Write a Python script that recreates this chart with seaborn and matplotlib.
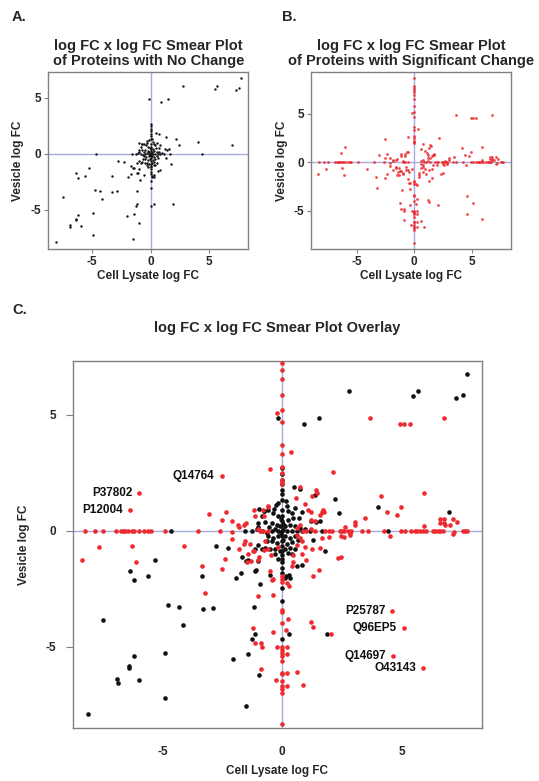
import numpy as np
import pandas as pd
import matplotlib
matplotlib.use("Agg")
import matplotlib.pyplot as plt
import seaborn as sns

# ---------------- data ----------------
# proteins with no change (black)
black_outer = [
    (7.73, 6.75), (2.77, 6.05), (5.47, 5.83), (5.68, 6.05), (7.28, 5.71), (7.54, 5.84),
    (-0.16, 4.86), (0.90, 4.60), (1.52, 4.86), (2.21, 1.36), (4.02, 1.02), (2.39, 0.78),
    (6.95, 0.82), (4.40, 0.0), (1.35, 1.55), (0.49, 1.88), (0.75, 1.81), (-4.65, 0.0),
    (-2.79, -0.65), (-2.25, -0.76), (-5.30, -1.27), (-6.38, -1.73), (-6.21, -2.11),
    (-5.62, -1.95), (-3.35, -1.95), (-1.93, -2.03), (-1.72, -1.81), (-1.67, -1.12),
    (-1.52, -1.29), (-1.16, -1.74), (-0.93, -2.29), (-0.53, -1.91), (-4.76, -3.21),
    (-4.30, -3.28), (-3.30, -3.39), (-2.90, -3.35), (-4.17, -4.05), (-7.48, -3.85),
    (-1.19, -3.30), (-1.15, -4.46), (-1.26, -4.66), (-1.44, -5.33), (-2.05, -5.52),
    (-6.19, -5.42), (-6.39, -5.83), (-6.39, -5.90), (-4.92, -5.29), (-6.92, -6.38),
    (-6.86, -6.57), (-6.00, -6.45), (-4.92, -7.23), (-8.11, -7.90), (-0.96, -6.21),
    (-1.51, -7.57), (1.88, -4.44), (0.27, -4.43), (0.0, -4.66), (0.0, -3.02), (0.0, -2.46),
    (0.14, -1.95), (0.27, -1.91), (0.60, -1.50), (0.81, -1.46), (1.29, -0.40), (1.58, 0.42),
]
black_core = [
    (0.0, 2.70), (0.0, 2.45), (0.0, 2.20), (0.0, 2.00), (0.0, 1.78), (0.0, 1.57), (0.0, 1.35),
    (-0.17, 1.21), (-0.28, 1.11), (-0.58, 0.92), (-0.75, 0.85), (-0.86, 0.66), (-0.38, 0.75),
    (0.18, 1.06), (0.25, 0.85), (0.39, 0.75), (0.53, 0.99), (0.83, 0.80), (1.19, 0.42),
    (1.39, 0.37), (-1.00, 0.34), (-0.72, 0.37), (-0.44, 0.34), (-0.24, 0.27), (-0.10, 0.20),
    (0.11, 0.20), (0.32, 0.27), (0.53, 0.20), (0.74, 0.13), (0.94, 0.06), (-1.56, 0.0),
    (-1.28, 0.0), (-1.07, 0.06), (-0.86, 0.0), (-0.65, -0.09), (-0.44, 0.0), (-0.31, 0.06),
    (-0.17, 0.0), (0.0, 0.0), (0.18, 0.0), (0.39, 0.0), (0.60, 0.0), (0.81, 0.0), (1.15, 0.0),
    (1.64, 0.0), (-0.58, -0.23), (-0.38, -0.30), (-0.17, -0.23), (0.11, -0.23), (0.32, -0.30),
    (0.53, -0.23), (-0.44, -0.45), (-0.24, -0.52), (-0.03, -0.45), (0.18, -0.55), (0.39, -0.49),
    (-0.72, -0.73), (-0.51, -0.80), (-0.31, -0.78), (-0.10, -0.88), (0.11, -0.80), (0.32, -0.73),
    (0.53, -0.80), (-0.86, -0.80), (-1.00, -0.59), (-1.14, -0.78), (-0.31, -1.02), (0.0, -1.06),
    (0.39, -1.02), (-1.42, -1.26), (-1.03, -1.31), (-1.11, -1.71), (0.11, -2.03), (0.32, -2.03),
    (1.78, -0.88), (0.0, -1.20), (0.0, -1.35), (0.0, 0.63), (0.0, 0.42), (0.0, 0.92),
    (0.0, -0.23), (0.0, -0.66), (0.0, -0.88), (-0.96, 0.96), (-0.78, 0.85), (-1.00, 0.17),
    (0.02, 0.10), (-0.05, -0.10), (0.05, 0.30), (-0.05, 0.50), (0.05, -0.40), (0.22, 0.45),
    (-0.20, 0.62), (0.45, 0.55), (-0.55, 0.15), (0.65, -0.40), (-0.65, -0.45), (0.25, -0.95),
    (-0.20, -1.20), (0.70, 0.55), (-0.35, 0.95), (0.15, 1.30), (0.0, -1.60), (0.0, -1.80),
]

# proteins with significant change (red)
red_on_x0_y = [8.72, 7.86, 7.69, 7.45, 7.22, 6.93, 6.55, 5.85, 5.20, 4.70, 3.70, 3.30, 2.75,
               2.50, 2.20, 2.10, 2.00, -1.93, -2.06, -2.20, -3.42, -3.49, -3.99, -5.00, -5.15,
               -5.26, -5.40, -5.63, -6.14, -6.19, -6.47, -6.70, -6.81, -7.00, -8.32]
red_on_y0_x = [-8.25, -7.83, -7.48, -6.93, -6.73, -6.65, -6.58, -6.46, -6.30, -6.21, -5.98,
               -5.76, -5.62, -5.47, -4.90, -3.53, -2.60, -0.93, -0.79, -0.58, 0.88, 1.01,
               1.36, 1.78, 1.95, 2.06, 2.40, 2.51, 2.58, 2.75, 2.89, 3.35, 3.60, 4.24, 4.95,
               5.11, 5.39, 5.53, 5.63, 5.74, 5.88, 6.02, 6.29, 6.40, 6.50, 6.61, 6.71, 7.54,
               7.64, 7.71]
red_other = [
    (-3.05, 0.73), (-2.36, 0.83), (-2.53, 0.46), (-7.67, -0.68), (-6.28, -0.64), (-4.10, -0.66),
    (-8.38, -1.24), (-6.10, -1.36), (-3.35, -1.51), (-2.39, -1.20), (-2.53, -1.65), (-3.22, -2.67),
    (-0.51, 2.66), (0.35, 3.40), (-0.22, 5.10),
    (-0.51, -1.74), (-0.42, -2.13), (0.28, -2.39), (-1.03, -2.82), (-0.39, -2.79), (0.22, -3.82),
    (-0.39, -4.38), (0.15, -4.30), (-1.21, -4.18), (-1.14, -4.83), (-0.89, -4.83), (-0.85, -5.00),
    (-0.23, -5.00), (0.21, -5.00), (0.21, -5.30), (-0.90, -5.98), (-0.28, -6.45), (0.21, -6.14),
    (0.21, -6.71), (0.60, -6.07), (0.85, -6.67), (1.27, -1.93), (1.54, -1.67), (1.22, -3.92),
    (1.28, -4.15), (2.03, -4.44),
    (4.14, 1.49), (5.92, 1.62), (4.39, 0.80), (4.95, 1.04), (4.79, 0.70), (3.47, 0.55),
    (3.02, 0.40), (2.64, 0.17), (2.47, -0.22), (2.82, -0.09), (2.47, -1.11), (4.50, -0.23),
    (5.92, 0.20), (6.59, 0.52), (6.75, 0.52), (6.61, 0.32), (6.75, 0.34), (6.79, 0.24),
    (6.99, 0.27), (7.12, 0.52), (7.31, 0.39), (7.18, -0.05), (7.12, -0.13),
    (3.65, 4.87), (4.93, 4.63), (5.09, 4.63), (5.35, 4.63), (6.78, 4.87), (2.13, 2.54),
    (1.39, 1.75), (1.47, 1.65), (1.25, 1.50), (0.75, 1.88), (0.56, 1.40), (1.71, 0.90),
    (1.64, 0.80), (3.06, 0.23), (2.84, -0.16), (2.56, -0.26), (1.97, -0.26),
    (0.97, 1.14), (1.08, 0.92), (1.22, 0.80), (1.57, 0.70), (1.74, 0.80), (-0.58, 1.09),
    (-0.79, 0.89), (-1.17, 0.89), (-1.53, 0.32), (-2.11, 0.42), (-1.83, 0.17), (-1.00, 0.09),
    (0.60, 0.13), (0.74, 0.27), (0.60, -0.16), (0.74, -0.30), (0.81, -0.45), (1.22, 0.09),
    (1.19, 0.46), (1.36, 0.42), (-2.11, -0.37), (-1.56, -0.45), (-1.35, -0.55), (-1.83, -0.80),
    (-1.17, -0.88), (-0.72, -0.45), (-0.58, -0.80), (-1.00, -1.24), (-1.31, -1.31),
    (-0.38, -2.10), (0.60, -0.59), (0.94, -0.69), (0.81, -1.02), (1.01, -1.24), (1.25, -0.78),
    (1.57, -0.73), (1.64, -0.30), (2.33, -1.16), (0.46, -1.06), (0.46, -1.35), (0.39, -1.52),
    (-2.11, -0.07), (-1.87, 0.26), (-1.58, 0.23), (-1.16, 0.66), (-0.78, 0.65), (-0.60, 1.03),
    (-1.59, -0.56), (-1.42, -1.02), (-1.21, -0.85), (-1.47, -1.35), (-0.98, -1.12),
    (-0.75, -0.83), (-0.46, -1.05), (-0.20, -0.69), (0.18, -2.24),
]
label_names = ["P37802", "P12004", "Q14764", "P25787", "Q96EP5", "Q14697", "O43143"]
label_x = [-5.98, -6.38, -2.54, 4.60, 5.08, 4.63, 5.90]
label_y = [1.63, 0.92, 2.38, -3.46, -4.18, -5.40, -5.91]

ticks = [-5, 0, 5]

# ---------------- assemble frames ----------------
black_pts = black_outer + black_core
black_df = pd.DataFrame(black_pts, columns=["x", "y"])
red_pts = ([(0.0, v) for v in red_on_x0_y] + [(v, 0.0) for v in red_on_y0_x]
           + red_other + list(zip(label_x, label_y)))
red_df = pd.DataFrame(red_pts, columns=["x", "y"])

# ---------------- style ----------------
sns.set_style("white")
plt.rcParams["font.family"] = ["Liberation Sans", "DejaVu Sans"]
plt.rcParams["font.weight"] = "bold"
plt.rcParams["axes.labelweight"] = "bold"
plt.rcParams["axes.titleweight"] = "bold"

BLACK = "#111111"
RED = "#ec2a2f"
LINE = "#a3acdc"
SPINE = "#808080"

W, H = 539, 781
fig = plt.figure(figsize=(W / 100, H / 100), dpi=100)


def add_ax(l, t, r, b):
    return fig.add_axes([l / W, 1 - b / H, (r - l) / W, (b - t) / H])


def style_ax(ax, xlim, ylim, tick_len, pad, fs):
    ax.set_xlim(*xlim)
    ax.set_ylim(*ylim)
    ax.axhline(0, color=LINE, lw=1.0, zorder=1)
    ax.axvline(0, color=LINE, lw=1.0, zorder=1)
    ax.set_xticks(ticks)
    ax.set_yticks(ticks)
    ax.set_xticklabels([str(t) for t in ticks], fontsize=fs, fontweight="bold")
    ax.set_yticklabels([str(t) for t in ticks], fontsize=fs, fontweight="bold")
    ax.tick_params(axis="both", direction="out", length=tick_len, width=0.8,
                   color=SPINE, pad=pad, bottom=True, left=True)
    for s in ax.spines.values():
        s.set_color(SPINE)
        s.set_linewidth(1.0)
    ax.set_xlabel("")
    ax.set_ylabel("")


# Panel A
axA = add_ax(48.3, 71.7, 248.3, 249.3)
sns.scatterplot(data=black_df, x="x", y="y", ax=axA, color=BLACK, s=3,
                linewidth=0, zorder=3, legend=False)
style_ax(axA, (-8.76, 8.36), (-8.52, 7.34), 3, 2, 8.5)
axA.set_title("log FC x log FC Smear Plot\nof Proteins with No Change",
              fontsize=10.5, fontweight="bold", pad=5, linespacing=1.1)

# Panel B
axB = add_ax(311, 71.7, 510.7, 249.3)
sns.scatterplot(data=red_df, x="x", y="y", ax=axB, color=RED, s=4,
                linewidth=0, alpha=0.85, zorder=3, legend=False)
style_ax(axB, (-8.98, 8.40), (-9.0, 9.37), 3, 2, 8.5)
axB.set_title("log FC x log FC Smear Plot\nof Proteins with Significant Change",
              fontsize=10.5, fontweight="bold", pad=5, linespacing=1.1)

# Panel C
axC = add_ax(72.7, 360.7, 482.3, 728.3)
sns.scatterplot(data=black_df, x="x", y="y", ax=axC, color=BLACK, s=11,
                linewidth=0, zorder=3, legend=False)
sns.scatterplot(data=red_df, x="x", y="y", ax=axC, color=RED, s=11,
                linewidth=0, zorder=4, legend=False)
style_ax(axC, (-8.76, 8.36), (-8.52, 7.34), 5, 7, 8.5)
axC.tick_params(axis="x", length=0, pad=13)
for name, x, y in zip(label_names, label_x, label_y):
    axC.annotate(name, (x, y), xytext=(-5, 0), textcoords="offset points",
                 ha="right", va="center", fontsize=8.5, fontweight="bold", color="#111111")

# labels, titles via figure text
for cx, cy in [(148.3, 276), (410.8, 276), (277.5, 771)]:
    fig.text(cx / W, 1 - cy / H, "Cell Lysate log FC", ha="center", va="center",
             fontsize=8.5, fontweight="bold")
for cx, cy in [(18, 160.5), (282, 160.5), (24, 544.5)]:
    fig.text(cx / W, 1 - cy / H, "Vesicle log FC", ha="center", va="center",
             rotation=90, fontsize=8.5, fontweight="bold")
fig.text(277.5 / W, 1 - 328 / H, "log FC x log FC Smear Plot Overlay", ha="center",
         va="center", fontsize=10.5, fontweight="bold")
for t, x, y in [("A.", 12, 17), ("B.", 282, 17), ("C.", 12, 310)]:
    fig.text(x / W, 1 - y / H, t, ha="left", va="center", fontsize=10.5, fontweight="bold")

fig.savefig("out.png", dpi=100)
